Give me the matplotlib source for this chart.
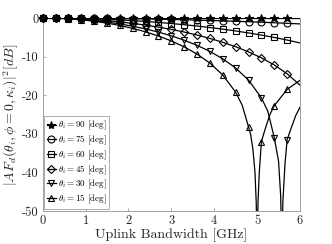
import matplotlib
matplotlib.use("Agg")
import matplotlib.pyplot as plt
from matplotlib.lines import Line2D

plt.rcParams['font.family'] = 'serif'
plt.rcParams['font.serif'] = ['cmr10', 'DejaVu Serif']
plt.rcParams['mathtext.fontset'] = 'cm'
plt.rcParams['axes.unicode_minus'] = False
plt.rcParams['axes.formatter.use_mathtext'] = True

# Uplink bandwidth grid [GHz] (marker positions every 0.3 GHz, last point 6.0 has no marker)
bw_grid = [0.0, 0.3, 0.6, 0.9, 1.2, 1.5, 1.8, 2.1, 2.4, 2.7, 3.0,
           3.3, 3.6, 3.9, 4.2, 4.5, 4.8, 5.1, 5.4, 5.7, 6.0]

# |AF|^2 [dB] for each incidence angle, read at bw_grid
af_90 = [0.0] * 21
af_75 = [0.0, -0.004, -0.015, -0.033, -0.059, -0.093, -0.133, -0.182, -0.238, -0.301, -0.373,
         -0.452, -0.539, -0.633, -0.736, -0.848, -0.967, -1.095, -1.231, -1.377, -1.531]
af_60 = [0.0, -0.014, -0.055, -0.124, -0.222, -0.347, -0.502, -0.686, -0.901, -1.146, -1.424,
         -1.736, -2.084, -2.468, -2.892, -3.358, -3.869, -4.428, -5.041, -5.713, -6.451]
af_45 = [0.0, -0.028, -0.110, -0.249, -0.446, -0.700, -1.016, -1.395, -1.842, -2.360, -2.956,
         -3.636, -4.411, -5.293, -6.297, -7.447, -8.774, -10.325, -12.173, -14.446, -17.388]
af_30 = [0.0, -0.041, -0.166, -0.375, -0.672, -1.059, -1.543, -2.129, -2.829, -3.653, -4.619,
         -5.750, -7.081, -8.662, -10.574, -12.958, -16.093, -20.681, -31.0, -31.5, -23.123]
af_15 = [0.0, -0.052, -0.207, -0.468, -0.839, -1.326, -1.938, -2.685, -3.585, -4.660, -5.942,
         -7.481, -9.354, -11.696, -14.772, -19.228, -28.2, -32.0, -22.698, -18.497, -16.142]

# extra points read around the nulls (line only, no markers)
null_bw_30 = [5.25, 5.5, 5.55, 5.57, 5.5772, 5.585, 5.6, 5.65, 5.8, 5.9]
null_af_30 = [-24.16, -37.08, -46.19, -57.71, -100.0, -57.15, -47.82, -37.80, -28.34, -25.29]
null_bw_15 = [4.65, 4.85, 4.9, 4.95, 4.98, 4.995, 5.0, 5.005, 5.02, 5.05, 5.2, 5.3]
null_af_15 = [-22.54, -30.21, -33.81, -39.91, -47.92, -60.0, -100.0, -60.0, -47.99, -40.09, -28.32, -24.99]

labels = [r'$\theta_i = 90$ [deg]', r'$\theta_i = 75$ [deg]', r'$\theta_i = 60$ [deg]',
          r'$\theta_i = 45$ [deg]', r'$\theta_i = 30$ [deg]', r'$\theta_i = 15$ [deg]']
series = [(af_90, [], []), (af_75, [], []), (af_60, [], []), (af_45, [], []),
          (af_30, null_bw_30, null_af_30), (af_15, null_bw_15, null_af_15)]
markers = ['*', 'o', 's', 'D', 'v', '^']
msizes = [6, 5, 4.5, 4.2, 5, 5]
fills = ['full', 'none', 'none', 'none', 'none', 'none']

fig = plt.figure(figsize=(3.32, 2.44), dpi=100)
ax = fig.add_axes([0.1286, 0.1352, 0.775, 0.791])

handles = []
for (af, nbw, naf), mk, ms, fs, lab in zip(series, markers, msizes, fills, labels):
    pts = sorted(list(zip(bw_grid, af)) + list(zip(nbw, naf)))
    xs = [p[0] for p in pts]
    ys = [p[1] for p in pts]
    ax.plot(xs, ys, color='black', lw=0.9, zorder=3)
    ax.plot(bw_grid[:-1], af[:-1], linestyle='none', marker=mk, markersize=ms,
            fillstyle=fs, markeredgecolor='black', markerfacecolor='black',
            markeredgewidth=0.8, clip_on=False, zorder=4)
    handles.append(Line2D([], [], color='black', lw=0.9, marker=mk, markersize=ms,
                          fillstyle=fs, markeredgecolor='black', markerfacecolor='black',
                          markeredgewidth=0.8, label=lab))

ax.set_xlim(0, 6)
ax.set_ylim(-50, 0)
ax.set_xticks([0, 1, 2, 3, 4, 5, 6])
ax.set_yticks([0, -10, -20, -30, -40, -50])
ax.set_xticklabels(['0', '1', '2', '3', '4', '5', '6'])
ax.set_yticklabels(['0', '-10', '-20', '-30', '-40', '-50'])
for s in ax.spines.values():
    s.set_color('#a0a0a0')
    s.set_linewidth(0.7)
ax.tick_params(direction='in', length=2.5, width=0.6, color='#a0a0a0',
               labelsize=9, labelcolor='#262626', pad=3)

ax.set_xlabel('Uplink Bandwidth [GHz]', fontsize=10, color='#262626', labelpad=1)
ax.set_ylabel(r'$|AF_d(\theta_i, \phi = 0, \kappa_i)|^2 [dB]$', fontsize=10,
              color='#262626', labelpad=1)

leg = ax.legend(handles=handles, loc='lower left', bbox_to_anchor=(0.005, 0.012),
                borderaxespad=0, fontsize=6.5, handlelength=1.0, handletextpad=0.2,
                borderpad=0.3, labelspacing=0.15, frameon=True, fancybox=False,
                edgecolor='#a0a0a0', framealpha=1)
leg.get_frame().set_linewidth(0.6)

fig.savefig('out.png', dpi=100)
